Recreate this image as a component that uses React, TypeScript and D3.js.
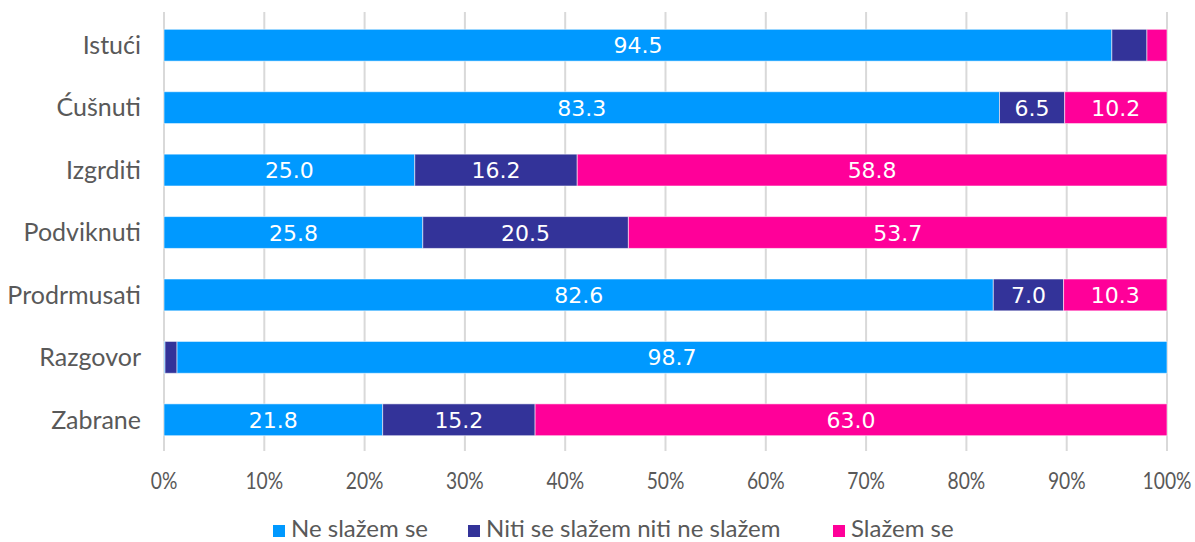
import React, { useEffect, useRef } from 'react';
import * as d3 from 'd3';

const categories = ['Istući', 'Ćušnuti', 'Izgrditi', 'Podviknuti', 'Prodrmusati', 'Razgovor', 'Zabrane'];
const series = ['Ne slažem se', 'Niti se slažem niti ne slažem', 'Slažem se'];
const neSlazem = [94.5, 83.3, 25.0, 25.8, 82.6, 0.1, 21.8];
const niti = [3.5, 6.5, 16.2, 20.5, 7.0, 1.2, 15.2];
const slazem = [2.0, 10.2, 58.8, 53.7, 10.3, 98.7, 63.0];
const colors = ['#0099ff', '#333399', '#ff0099'];
// in the original the last Razgovor segment is coloured like the first series
const pointColors: { [k: string]: string } = { 'Razgovor|2': '#0099ff' };
const ticks = [0, 0.1, 0.2, 0.3, 0.4, 0.5, 0.6, 0.7, 0.8, 0.9, 1];

export default function App() {
  const svgRef = useRef<SVGSVGElement>(null);

  useEffect(() => {
    const width = 1195;
    const height = 542;
    const margin = { top: 14, right: 28, bottom: 91, left: 164 };

    const svg = d3.select(svgRef.current);
    svg.selectAll('*').remove();

    const rows = categories.map((c, i) => ({
      name: c,
      [series[0]]: neSlazem[i],
      [series[1]]: niti[i],
      [series[2]]: slazem[i],
    }));

    const stacked = d3.stack<any>().keys(series).offset(d3.stackOffsetExpand)(rows);

    const x = d3.scaleLinear().domain([0, 1]).range([margin.left, width - margin.right]);
    const y = d3.scaleBand().domain(categories).range([margin.top, height - margin.bottom]).paddingInner(0.49).paddingOuter(0.245);

    // gridlines
    svg.append('g')
      .selectAll('line')
      .data(ticks)
      .join('line')
      .attr('x1', d => x(d))
      .attr('x2', d => x(d))
      .attr('y1', 12)
      .attr('y2', 451)
      .attr('stroke', '#d9d9d9')
      .attr('stroke-width', 2);

    // tick labels (narrow face in the original, so squeeze Lato a bit)
    svg.append('g')
      .selectAll('text')
      .data(ticks)
      .join('text')
      .attr('transform', d => `translate(${x(d)},489) scale(0.8,1)`)
      .attr('text-anchor', 'middle')
      .style('font', '24px Lato')
      .attr('fill', '#595959')
      .text(d => d3.format('.0%')(d));

    // category labels
    svg.append('g')
      .selectAll('text')
      .data(categories)
      .join('text')
      .attr('x', margin.left - 23)
      .attr('y', d => y(d)! + y.bandwidth() / 2)
      .attr('dy', '0.35em')
      .attr('text-anchor', 'end')
      .style('font', '25px Lato')
      .attr('fill', '#595959')
      .text(d => d);

    const layer = svg.append('g')
      .selectAll('g')
      .data(stacked)
      .join('g');

    layer.selectAll('rect')
      .data((s: any) => s.map((d: any) => ({ d, key: s.key, idx: s.index })))
      .join('rect')
      .attr('x', (p: any) => x(p.d[0]))
      .attr('width', (p: any) => x(p.d[1]) - x(p.d[0]))
      .attr('y', (p: any) => y(p.d.data.name)!)
      .attr('height', y.bandwidth())
      .attr('fill', (p: any) => pointColors[p.d.data.name + '|' + p.idx] || colors[p.idx])
      .attr('stroke', 'rgba(255,255,255,0.55)')
      .attr('stroke-width', 1);

    layer.selectAll('text')
      .data((s: any) => s.map((d: any) => ({ d, key: s.key, idx: s.index })).filter((p: any) => p.d.data[p.key] >= 5))
      .join('text')
      .attr('x', (p: any) => (x(p.d[0]) + x(p.d[1])) / 2)
      .attr('y', (p: any) => y(p.d.data.name)! + y.bandwidth() / 2)
      .attr('dy', '0.37em')
      .attr('text-anchor', 'middle')
      .style('font', '22px "DejaVu Sans"')
      .attr('fill', '#ffffff')
      .text((p: any) => d3.format('.1f')(p.d.data[p.key]));

    // legend
    const legendX = [273, 468, 833];
    const lg = svg.append('g')
      .selectAll('g')
      .data(series)
      .join('g')
      .attr('transform', (d, i) => `translate(${legendX[i]},537)`);
    lg.append('rect')
      .attr('x', 0)
      .attr('y', -12)
      .attr('width', 12)
      .attr('height', 12)
      .attr('fill', (d, i) => colors[i]);
    lg.append('text')
      .attr('x', 18)
      .attr('y', 0)
      .style('font', '24px Lato')
      .attr('fill', '#595959')
      .text(d => d);
  }, []);

  return (
    <svg
      ref={svgRef}
      width={1195}
      height={542}
      style={{ position: 'absolute', left: 0, top: 0, background: '#fff' }}
    />
  );
}
